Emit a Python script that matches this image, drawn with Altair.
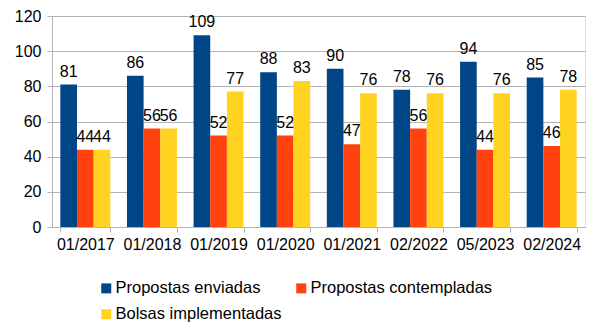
import altair as alt
import pandas as pd

categories = ["01/2017", "01/2018", "01/2019", "01/2020", "01/2021", "02/2022", "05/2023", "02/2024"]
series = ["Propostas enviadas", "Propostas contempladas", "Bolsas implementadas"]
enviadas = [81, 86, 109, 88, 90, 78, 94, 85]
contempladas = [44, 56, 52, 52, 47, 56, 44, 46]
implementadas = [44, 56, 77, 83, 76, 76, 76, 78]
colors = ["#004586", "#ff420e", "#ffd320"]

rows = []
for name, vals in zip(series, [enviadas, contempladas, implementadas]):
    for c, v in zip(categories, vals):
        rows.append({"cat": c, "serie": name, "valor": v})
df = pd.DataFrame(rows)

FONT = "Liberation Sans"
GRID = "#b3b3b3"

x = alt.X("cat:N", sort=categories, title=None,
          scale=alt.Scale(paddingInner=0.25, paddingOuter=0.125),
          axis=alt.Axis(labelAngle=0, labelFontSize=16, labelFont=FONT, labelColor="#000000",
                        tickBand="extent", tickColor=GRID, tickSize=5, domainColor=GRID,
                        labelPadding=4, grid=False, labelOverlap=False))
xoff = alt.XOffset("serie:N", sort=series, scale=alt.Scale(paddingInner=0, paddingOuter=0))
y = alt.Y("valor:Q", title=None,
          scale=alt.Scale(domain=[0, 120], nice=False),
          axis=alt.Axis(values=[0, 20, 40, 60, 80, 100, 120], labelFontSize=16, labelFont=FONT,
                        labelColor="#000000", gridColor=GRID, tickColor=GRID, tickSize=5,
                        domainColor=GRID, labelPadding=6, labelOverlap=False))

color = alt.Color("serie:N", sort=series, title=None,
                  scale=alt.Scale(domain=series, range=colors),
                  legend=alt.Legend(orient="none", legendX=46, legendY=264, columns=2,
                                    direction="horizontal", symbolType="square", symbolSize=100,
                                    symbolStrokeWidth=0, labelFontSize=16.5, labelFont=FONT,
                                    labelColor="#000000", columnPadding=11, rowPadding=9,
                                    labelLimit=300, symbolOffset=0, labelOffset=1))

base = alt.Chart(df).encode(x=x, xOffset=xoff, y=y)
bars = base.mark_bar().encode(color=color)
labels = base.mark_text(baseline="bottom", dy=-5, fontSize=16, font=FONT, color="#000000").encode(
    text="valor:Q")

chart = alt.layer(bars, labels).properties(
    width=533, height=211,
    autosize=alt.AutoSizeParams(type="none"),
    padding={"left": 52, "top": 16, "right": 11, "bottom": 99},
).configure_view(stroke=None).configure(background="white")

chart.save("out.html", embed_options={"renderer": "svg", "actions": False})
